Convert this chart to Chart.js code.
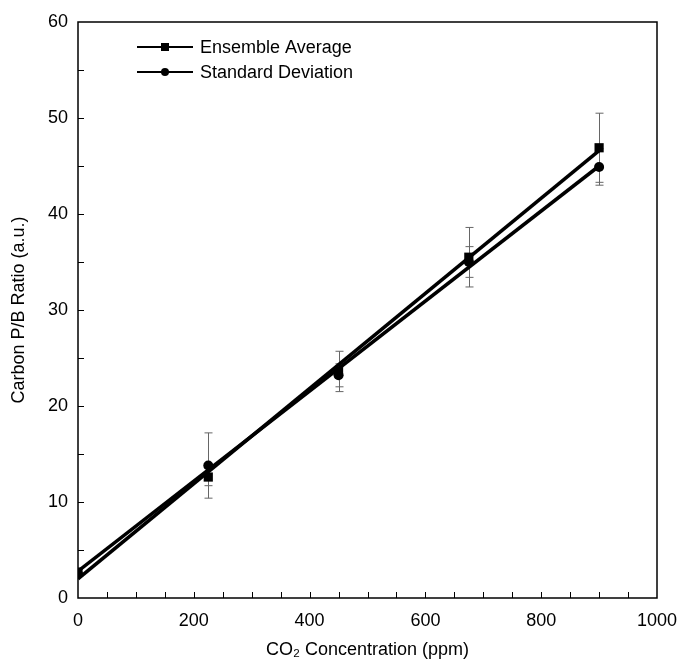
<!DOCTYPE html>
<html><head><meta charset="utf-8">
<script src="https://cdn.jsdelivr.net/npm/chart.js@4/dist/chart.umd.min.js"></script>
<style>html,body{margin:0;padding:0;background:#fff}#wrap{width:679px;height:662px;position:relative}canvas{display:block}</style>
</head><body><div id="wrap"><canvas id="c" width="679" height="662" style="width:679px;height:662px"></canvas></div>
<script>
const concentrations = [0, 225, 450, 675, 900];
const ensembleAverage = [2.7, 12.6, 23.6, 35.5, 46.9];
const ensembleError = [0, 0.9, 2.1, 3.1, 3.6];
const standardDeviation = [2.5, 13.8, 23.2, 35.0, 44.9];
const standardDeviationError = [0, 3.4, 1.2, 1.6, 1.9];
const fitX = [0, 900];
const ensembleFit = [2.0, 46.6];
const standardDeviationFit = [2.8, 45.0];
const xTickValues = [0, 200, 400, 600, 800, 1000];
const yTickValues = [0, 10, 20, 30, 40, 50, 60];
const seriesNames = ['Ensemble Average', 'Standard Deviation'];

const FONT = '"Liberation Sans", Arial, Helvetica, sans-serif';
const toPts = (xs, ys) => xs.map((x, i) => ({x: x, y: ys[i]}));

const errorBarPlugin = {
  id: 'errorBars',
  beforeDatasetsDraw(chart) {
    const {ctx, scales: {x, y}} = chart;
    ctx.save();
    ctx.strokeStyle = '#666';
    ctx.lineWidth = 1;
    [[ensembleAverage, ensembleError], [standardDeviation, standardDeviationError]].forEach(([vals, errs]) => {
      concentrations.forEach((c, i) => {
        if (!errs[i]) return;
        const px = Math.round(x.getPixelForValue(c)) + 0.5;
        const top = y.getPixelForValue(vals[i] + errs[i]);
        const bot = y.getPixelForValue(vals[i] - errs[i]);
        ctx.beginPath();
        ctx.moveTo(px, top); ctx.lineTo(px, bot);
        ctx.moveTo(px - 4, top); ctx.lineTo(px + 4, top);
        ctx.moveTo(px - 4, bot); ctx.lineTo(px + 4, bot);
        ctx.stroke();
      });
    });
    ctx.restore();
  }
};

const framePlugin = {
  id: 'frame',
  afterDraw(chart) {
    const {ctx, chartArea: a, scales: {x, y}} = chart;
    ctx.save();
    ctx.strokeStyle = '#000';
    ctx.lineWidth = 1.5;
    ctx.strokeRect(a.left, a.top, a.right - a.left, a.bottom - a.top);
    ctx.lineWidth = 1;
    ctx.beginPath();
    for (let v = 50; v < 1000; v += 50) {
      const px = Math.round(x.getPixelForValue(v)) + 0.5;
      ctx.moveTo(px, a.bottom); ctx.lineTo(px, a.bottom - 6);
    }
    for (let v = 5; v < 60; v += 5) {
      const py = Math.round(y.getPixelForValue(v)) + 0.5;
      ctx.moveTo(a.left, py); ctx.lineTo(a.left + 6, py);
    }
    ctx.stroke();
    const items = [{style: 'rect', yy: 47}, {style: 'circle', yy: 72}];
    items.forEach((it, i) => {
      ctx.strokeStyle = '#000';
      ctx.lineWidth = 2;
      ctx.beginPath();
      ctx.moveTo(137, it.yy); ctx.lineTo(193, it.yy);
      ctx.stroke();
      ctx.fillStyle = '#000';
      if (it.style === 'rect') ctx.fillRect(161, it.yy - 4, 8, 8);
      else { ctx.beginPath(); ctx.arc(165, it.yy, 4, 0, Math.PI * 2); ctx.fill(); }
      ctx.font = '18px ' + FONT;
      ctx.textBaseline = 'middle';
      ctx.textAlign = 'left';
      ctx.fillText(seriesNames[i], 200, it.yy + 1);
    });
    ctx.restore();
  }
};

new Chart(document.getElementById('c'), {
  type: 'scatter',
  data: {
    datasets: [
      {label: seriesNames[0] + ' fit', data: toPts(fitX, ensembleFit), showLine: true, borderColor: '#000', borderWidth: 3.5, pointRadius: 0, order: 2},
      {label: seriesNames[1] + ' fit', data: toPts(fitX, standardDeviationFit), showLine: true, borderColor: '#000', borderWidth: 3.5, pointRadius: 0, order: 2},
      {label: seriesNames[0], data: toPts(concentrations, ensembleAverage), pointStyle: 'rect', pointRadius: 6.5, backgroundColor: '#000', borderColor: '#000', borderWidth: 0, order: 1},
      {label: seriesNames[1], data: toPts(concentrations, standardDeviation), pointStyle: 'circle', pointRadius: 5, backgroundColor: '#000', borderColor: '#000', borderWidth: 0, order: 1}
    ]
  },
  options: {
    responsive: false,
    maintainAspectRatio: false,
    animation: false,
    devicePixelRatio: 1,
    layout: {padding: {top: 22, right: 22, left: 0, bottom: 0}},
    plugins: {legend: {display: false}, tooltip: {enabled: false}},
    scales: {
      x: {
        type: 'linear', min: 0, max: 1000,
        afterBuildTicks: s => { s.ticks = xTickValues.map(v => ({value: v})); },
        afterFit: s => { s.height = 64; s.paddingLeft = 0; s.paddingRight = 0; },
        grid: {display: false, drawTicks: false},
        border: {display: false},
        ticks: {color: '#000', font: {size: 18, family: FONT}, padding: 12, maxRotation: 0, autoSkip: false, callback: v => String(v)},
        title: {display: true, text: 'CO₂ Concentration (ppm)', color: '#000', font: {size: 18, family: FONT}, padding: {top: 0, bottom: 1}}
      },
      y: {
        type: 'linear', min: 0, max: 60,
        afterBuildTicks: s => { s.ticks = yTickValues.map(v => ({value: v})); },
        afterFit: s => { s.width = 78; s.paddingTop = 0; s.paddingBottom = 0; },
        grid: {display: false, drawTicks: false},
        border: {display: false},
        ticks: {color: '#000', font: {size: 18, family: FONT}, padding: 10, autoSkip: false, callback: v => String(v)},
        title: {display: true, text: 'Carbon P/B Ratio (a.u.)', color: '#000', font: {size: 18, family: FONT}, padding: {top: 8, bottom: 0}}
      }
    }
  },
  plugins: [errorBarPlugin, framePlugin]
});
</script></body></html>
